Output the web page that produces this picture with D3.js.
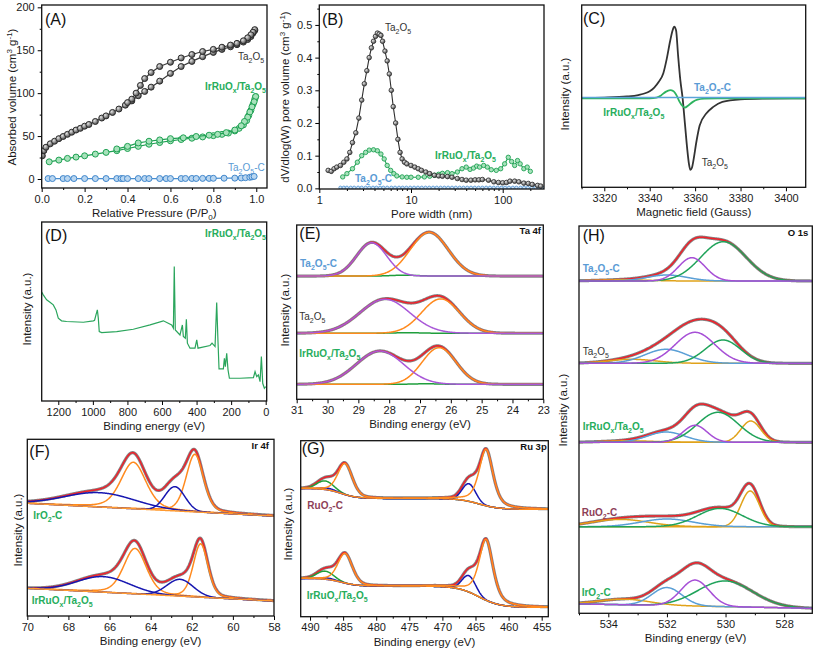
<!DOCTYPE html>
<html><head><meta charset="utf-8">
<script src="https://cdn.jsdelivr.net/npm/d3@7"></script>
<style>body{margin:0;background:#fff}svg{display:block}</style>
</head><body>
<svg id="c" width="817" height="651"></svg>
<script>
// ---------------- DATA ----------------
// (A) N2 isotherms [P/P0, volume]
const aTa2O5Ads = [[0.003,27],[0.01,33],[0.02,37],[0.04,41],[0.06,44],[0.08,47],[0.1,49.5],[0.12,52],[0.14,54.5],[0.16,57],[0.18,59],[0.2,61.5],[0.22,63.5],[0.25,67],[0.28,71],[0.3,73.5],[0.33,77.5],[0.36,81.5],[0.39,86],[0.42,91],[0.45,97],[0.48,102],[0.51,107],[0.55,114],[0.6,123],[0.65,131],[0.7,137],[0.75,142.5],[0.8,147.5],[0.84,151],[0.88,154],[0.91,156.5],[0.94,159.5],[0.96,162.5],[0.975,166],[0.985,170],[0.993,173]];
const aTa2O5Des = [[0.993,174],[0.985,171],[0.975,168],[0.96,164.5],[0.94,161],[0.91,158],[0.88,156],[0.84,153.5],[0.8,151],[0.75,148.5],[0.7,145],[0.65,141],[0.6,136],[0.55,131],[0.51,124],[0.48,117],[0.46,109],[0.44,100],[0.42,93],[0.4,89]];
const aIrAds = [[0.035,20],[0.08,22],[0.12,24],[0.16,25.5],[0.2,27],[0.25,29],[0.3,31],[0.35,33],[0.4,35.5],[0.45,38],[0.5,40.5],[0.55,42.5],[0.6,44.5],[0.65,46],[0.7,47.5],[0.75,49],[0.8,50.5],[0.84,52],[0.87,53.5],[0.9,56],[0.92,59],[0.94,63],[0.955,68],[0.965,74],[0.975,80],[0.985,87],[0.993,93],[0.997,96]];
const aIrDes = [[0.997,96],[0.99,90],[0.98,84],[0.97,78],[0.96,72],[0.945,67],[0.93,62],[0.9,57],[0.86,54],[0.82,52],[0.78,51],[0.72,49.5],[0.66,48],[0.6,47],[0.55,45.5],[0.5,44],[0.45,42],[0.4,38],[0.35,35]];
const aTaC = [[0.03,0.5],[0.05,0.5],[0.1,0.5],[0.12,0.5],[0.15,0.5],[0.2,0.5],[0.25,0.5],[0.3,0.5],[0.35,0.5],[0.37,0.5],[0.38,0.5],[0.4,0.5],[0.45,0.5],[0.48,0.5],[0.5,0.5],[0.55,0.5],[0.58,0.5],[0.6,0.5],[0.65,0.5],[0.67,0.6],[0.7,0.6],[0.72,0.6],[0.75,0.7],[0.78,0.7],[0.8,0.8],[0.85,0.9],[0.9,1.0],[0.93,1.2],[0.95,1.5],[0.97,2],[0.98,2.5],[0.99,3]];
const aXTicks = [0,0.2,0.4,0.6,0.8,1.0];
const aYTicks = [0,50,100,150,200];

// (B) pore size distribution [width nm, dV/dlogW]
const bTa2O5 = [[1.25,0.055],[1.35,0.052],[1.45,0.06],[1.55,0.065],[1.7,0.07],[1.85,0.08],[2.0,0.09],[2.15,0.11],[2.3,0.14],[2.5,0.17],[2.7,0.215],[2.9,0.27],[3.1,0.32],[3.3,0.36],[3.5,0.4],[3.7,0.43],[3.9,0.45],[4.1,0.465],[4.3,0.475],[4.5,0.472],[4.7,0.468],[4.9,0.45],[5.2,0.42],[5.5,0.39],[5.8,0.35],[6.1,0.3],[6.4,0.25],[6.8,0.2],[7.2,0.15],[7.6,0.11],[8.0,0.09],[8.5,0.08],[9,0.075],[10,0.07],[11,0.065],[12,0.06],[13,0.055],[14.5,0.05],[16,0.045],[18,0.04],[20,0.038],[22,0.037],[25,0.036],[28,0.034],[32,0.03],[36,0.027],[40,0.025],[45,0.025],[50,0.026],[55,0.026],[60,0.027],[70,0.025],[80,0.02],[90,0.018],[100,0.017],[110,0.018],[120,0.022],[135,0.022],[150,0.02],[170,0.016],[190,0.015],[210,0.012],[240,0.009],[260,0.007]];
const bIr = [[1.8,0.035],[2.0,0.045],[2.3,0.06],[2.6,0.08],[2.9,0.1],[3.2,0.11],[3.5,0.117],[3.9,0.118],[4.3,0.115],[4.7,0.105],[5.1,0.09],[5.5,0.07],[6,0.055],[6.5,0.045],[7,0.038],[8,0.035],[9,0.034],[10,0.034],[12,0.034],[14,0.035],[16,0.037],[18,0.04],[20,0.043],[22,0.046],[25,0.048],[28,0.045],[32,0.05],[36,0.06],[40,0.065],[44,0.058],[48,0.062],[52,0.068],[56,0.065],[62,0.07],[68,0.065],[75,0.057],[85,0.055],[95,0.06],[105,0.075],[115,0.095],[125,0.082],[135,0.07],[145,0.085],[155,0.075],[170,0.06],[185,0.065],[200,0.052]];
const bTaC = [[1.7,0.002],[1.85,0.002],[2.0,0.002],[2.2,0.002],[2.4,0.002],[2.65,0.002],[2.9,0.002],[3.2,0.002],[3.5,0.002],[3.85,0.002],[4.2,0.002],[4.6,0.002],[5.0,0.002],[5.5,0.002],[6.1,0.002],[6.7,0.002],[7.4,0.002],[8.1,0.002],[8.9,0.002],[9.8,0.002],[10.8,0.002],[11.9,0.002],[13.1,0.002],[14.4,0.002],[15.8,0.002],[17.4,0.002],[19.1,0.002],[21,0.002],[23.1,0.002],[25.4,0.002],[28,0.002],[30.8,0.002],[33.9,0.002],[37.3,0.002],[41,0.002],[45.1,0.002],[49.6,0.002],[54.6,0.002],[60,0.002],[66,0.002],[72.6,0.002],[79.9,0.002],[87.9,0.002],[96.7,0.002],[106,0.002],[117,0.002],[129,0.002],[141,0.002],[156,0.002],[171,0.002],[188,0.002],[207,0.002],[228,0.002],[250,0.002],[270,0.002]];
const bXTicks = [1,10,100];
const bYTicks = [0,0.1,0.2,0.3,0.4,0.5];

// (C) EPR [Gauss, intensity]
const cTa2O5 = [[3310,0.005],[3320,0.01],[3330,0.025],[3335,0.045],[3338,0.07],[3340,0.1],[3342,0.15],[3344,0.23],[3346,0.35],[3347.5,0.55],[3349,0.8],[3350,0.94],[3350.8,1.0],[3351.6,0.95],[3352.5,0.6],[3353.5,0.25],[3354.5,0],[3355.5,-0.35],[3356.5,-0.7],[3357.3,-0.92],[3357.9,-1.0],[3358.6,-0.97],[3359.3,-0.86],[3360.6,-0.6],[3362,-0.38],[3365,-0.21],[3368,-0.12],[3372,-0.05],[3380,-0.015],[3390,-0.005],[3409,0]];
const cIr = [[3310,0],[3340,0],[3343,0.01],[3345,0.04],[3347,0.09],[3349,0.115],[3350.5,0.1],[3352,0.03],[3353,-0.04],[3354.5,-0.11],[3355.5,-0.13],[3357,-0.1],[3359,-0.05],[3361,-0.02],[3364,-0.005],[3370,0],[3409,0]];
const cTaC = [[3310,0.012],[3350,0.012],[3409,0.012]];
const cXTicks = [3320,3340,3360,3380,3400];

// (D) XPS survey [BE, intensity]
const dSurvey = [[1296,60.8],[1287,59.3],[1267.5,56.5],[1248,55.2],[1229,53.7],[1213.5,50.9],[1200,46.3],[1181,44.8],[1152,44.4],[1055,44.0],[997,44.8],[990,45.1],[982,48.1],[974,50.9],[968.5,46.3],[963,38.8],[949,38.2],[862,38.8],[766,40.1],[669,42.5],[592,44.8],[544,42.5],[534,40.7],[529,75.2],[523,39.7],[496,36.9],[482,42.5],[476.5,36.0],[465,35.1],[459,45.7],[453,32.3],[438,29.5],[409,29.5],[399,34.1],[391.6,29.5],[322,31.0],[310.5,32.3],[293,30.4],[283.5,55.0],[276,33.2],[270,17.9],[245,17.9],[239,23.9],[233.4,19.2],[225.6,26.7],[218,17.4],[210,12.7],[148.5,12.7],[71,13.1],[61.6,16.4],[52,13.6],[42.3,14.6],[32.7,10.8],[25,24.8],[17.2,9.9],[7.6,7.1],[0,8.0]];
const dXTicks = [1200,1000,800,600,400,200,0];

// XPS fits: components as [centre (eV), height, FWHM (eV), Lorentz fraction]
// (E) Ta 4f
const eFits = [
  {base:70.7, purple:[[28.57,19.1,1.15,0]], orange:[[26.7,25.1,1.45,0]], green:[[27.5,0.5,1.0,0]]},
  {base:37.9, purple:[[28.14,19.5,1.9,0]], orange:[[26.33,19.7,1.45,0]], green:[[27.4,0.3,1.0,0]]},
  {base:8.6,  purple:[[28.3,19.1,1.8,0]],  orange:[[26.38,21,1.3,0]],  green:[[26.8,0.3,1.0,0]]}
];
const eXTicks = [31,30,29,28,27,26,25,24,23];
// (F) Ir 4f
const fFits = [
  {base:56.6, slope:0.6, orange:[[64.84,26.3,1.45,0.35],[61.85,32.6,1.0,0.3]], blue:[[66.47,8.1,4.0,0],[62.82,13.7,1.15,0]]},
  {base:8.5,  slope:0.6, orange:[[64.76,25.7,1.3,0.3],[61.57,30.2,0.85,0.3]], blue:[[66.3,8.8,3.0,0],[62.57,9.5,1.5,0]]}
];
const fXTicks = [70,68,66,64,62,60,58];
// (G) Ru 3p ; steps: [centre, size, width]
const gFits = [
  {base:61, steps:[[464.5,6.2,1.5],[485.3,5.7,1.2]], green:[[487.7,4.9,3.0,0]], blue:[[487.3,1.0,2.5,0],[466.0,10,2.4,0]], orange:[[484.7,17.7,2.6,0.3],[463.4,32.1,2.5,0.55]]},
  {base:5.3, steps:[[464.5,12.1,1.6],[485.3,4.4,1.2]], green:[[487.7,4.6,3.0,0]], blue:[[487.3,0.8,2.5,0],[466.0,9.3,2.4,0]], orange:[[484.7,16.9,2.6,0.3],[463.4,34.6,2.5,0.55]]}
];
const gXTicks = [490,485,480,475,470,465,460,455];
// (H) O 1s
const hFits = [
  {base:332.3, orange:[[533.5,1.2,2.0,0]], blue:[[532.0,6,1.6,0]], green:[[530.07,39.3,1.82,0]], purple:[[531.15,23.3,1.08,0]]},
  {base:250, orange:[[533.2,4,1.9,0]], blue:[[532.03,14,1.7,0]], green:[[530.09,23.3,1.42,0]], purple:[[531.04,31,1.59,0]]},
  {base:171, orange:[[529.14,21.3,0.8,0],[533.3,1.5,2.0,0]], blue:[[532.03,10.3,1.5,0]], green:[[530.26,30,1.65,0]], purple:[[531.04,17,0.97,0]]},
  {base:86.6, orange:[[529.16,35.7,0.75,0],[533.6,7.3,2.3,0]], blue:[[532.0,7.7,2.1,0]], green:[[530.19,18.3,1.8,0]], purple:[]},
  {base:5, slope:0.55, orange:[[533.43,5.6,2.0,0]], blue:[[532.0,18,1.2,0]], green:[[530.01,25.7,2.2,0]], purple:[[531.04,26,1.14,0]]}
];
const hXTicks = [534,532,530,528];

// ---------------- DRAWING ----------------
const FONT = '"Liberation Sans", Arial, Helvetica, sans-serif';
const svg = d3.select('#c').attr('font-family', FONT);
const defs = svg.append('defs');
const grad = defs.append('radialGradient').attr('id','sph').attr('cx','35%').attr('cy','35%').attr('r','65%');
grad.append('stop').attr('offset','0%').attr('stop-color','#e6e6e6');
grad.append('stop').attr('offset','100%').attr('stop-color','#4a4a4a');

const C = {green:'#27ad5c', blue:'#5b9bd5', gray:'#3c3c3c', maroon:'#8e3f58'};

function rich(sel, str, size){
  const parts = str.split(/(_\{[^}]*\}|\^\{[^}]*\})/).filter(s=>s.length);
  let shift = 0;
  parts.forEach(p=>{
    let t=p, target=0, fs=size;
    if(p.startsWith('_{')){t=p.slice(2,-1); target=size*0.3; fs=size*0.7;}
    else if(p.startsWith('^{')){t=p.slice(2,-1); target=-size*0.38; fs=size*0.7;}
    sel.append('tspan').attr('dy', target-shift).attr('font-size', fs).text(t);
    shift = target;
  });
  return sel;
}
function label(x, y, str, o={}){
  const t = svg.append('text').attr('x',x).attr('y',y)
    .attr('fill', o.color||'#222').attr('font-size', o.size||10)
    .attr('font-weight', o.weight||'normal').attr('text-anchor', o.anchor||'start');
  if(o.rotate) t.attr('transform',`rotate(-90,${x},${y})`);
  return rich(t, str, o.size||10);
}

function styleAxis(sel){
  sel.select('.domain').remove();
  sel.selectAll('line').attr('stroke','#000').attr('stroke-width',1);
  sel.selectAll('text').attr('font-size',11).attr('fill','#1a1a1a').attr('font-family',FONT);
}

function panel(o){
  const x = (o.log ? d3.scaleLog() : d3.scaleLinear()).domain(o.xd).range([o.l,o.r]);
  const y = d3.scaleLinear().domain(o.yd).range([o.b,o.t]);
  const cid = 'clip-'+o.id;
  defs.append('clipPath').attr('id',cid).append('rect')
    .attr('x',o.l).attr('y',o.t).attr('width',o.r-o.l).attr('height',o.b-o.t);
  const g = svg.append('g');
  const plot = g.append('g').attr('clip-path',`url(#${cid})`);
  g.append('g').attr('transform',`translate(0,${o.b})`)
    .call(d3.axisBottom(x).tickValues(o.xt).tickFormat(o.xf||(d=>d)).tickSize(4).tickPadding(3)).call(styleAxis);
  if(o.xm) g.append('g').attr('transform',`translate(0,${o.b})`)
    .call(d3.axisBottom(x).tickValues(o.xm).tickFormat('').tickSize(2)).call(styleAxis);
  if(o.yt){
    g.append('g').attr('transform',`translate(${o.l},0)`)
      .call(d3.axisLeft(y).tickValues(o.yt).tickFormat(o.yf||(d=>d)).tickSize(4).tickPadding(3)).call(styleAxis);
    if(o.ym) g.append('g').attr('transform',`translate(${o.l},0)`)
      .call(d3.axisLeft(y).tickValues(o.ym).tickFormat('').tickSize(2)).call(styleAxis);
  }
  g.append('rect').attr('x',o.l).attr('y',o.t).attr('width',o.r-o.l).attr('height',o.b-o.t)
    .attr('fill','none').attr('stroke','#111').attr('stroke-width',1.3);
  label((o.l+o.r)/2, o.b+29, o.xtitle, {size:11.5, anchor:'middle', color:'#1a1a1a'});
  label(o.ytx, o.ytc, o.ytitle, {size:11.5, anchor:'middle', color:'#1a1a1a', rotate:true});
  label(o.tagx, o.tagy, o.tag, {size:16, color:'#111'});
  return {x, y, plot, g};
}

function pv(xv, c){
  const d = (xv-c[0])/c[2];
  const G = Math.exp(-4*Math.LN2*d*d), L = 1/(1+4*d*d);
  const eta = c[3]||0;
  return c[1]*((1-eta)*G + eta*L);
}
function drawFit(p, spec, x0, order, colors){
  const [a,b] = p.x.domain();
  const n = 500;
  const xs = d3.range(n+1).map(i => a + (b-a)*i/n);
  const bg = xv => {
    let v = spec.base + (spec.slope||0)*(xv-x0);
    (spec.steps||[]).forEach(s => { v += s[1]/(1+Math.exp(-(xv-s[0])/s[2])); });
    return v;
  };
  const all = [];
  order.forEach(k => (spec[k]||[]).forEach(c => all.push(c)));
  const env = xv => bg(xv) + all.reduce((s,c)=>s+pv(xv,c),0);
  const line = d3.line().x(d=>p.x(d[0])).y(d=>p.y(d[1]));
  p.plot.append('path').attr('d', line(xs.map(v=>[v,env(v)]))).attr('fill','none')
    .attr('stroke','#707070').attr('stroke-width',3.2).attr('opacity',0.85);
  p.plot.append('path').attr('d', line(xs.map(v=>[v,env(v)]))).attr('fill','none')
    .attr('stroke','#f0202a').attr('stroke-width',1.5);
  order.forEach(k => (spec[k]||[]).forEach(c => {
    p.plot.append('path').attr('d', line(xs.map(v=>[v, bg(v)+pv(v,c)]))).attr('fill','none')
      .attr('stroke', colors[k]).attr('stroke-width',1.5);
  }));
  if(colors.bgline){
    p.plot.append('path').attr('d', line(xs.map(v=>[v,bg(v)]))).attr('fill','none')
      .attr('stroke', colors.bgline).attr('stroke-width',1.5);
  }
}

// ---- Panel A ----
const pA = panel({id:'A', l:41.7, r:267, t:5, b:188, xd:[0,1.05], yd:[-10.5,202.7],
  xt:aXTicks, xm:[0.1,0.3,0.5,0.7,0.9], xf:d3.format('.1f'), yt:aYTicks, ym:[25,75,125,175],
  xtitle:'Relative Pressure (P/P_{0})', ytitle:'Absorbed volume (cm^{3} g^{-1})', ytx:16, ytc:97,
  tag:'(A)', tagx:45, tagy:25});
{
  const line = d3.line().x(d=>pA.x(d[0])).y(d=>pA.y(d[1]));
  const series = [
    [aTaC, '#4a8fd0', '#b9d6f0', '#3f86cc'],
    [aIrAds, '#1fa153', '#a7e2bb', '#1fa153'], [aIrDes, '#1fa153', '#a7e2bb', '#1fa153'],
    [aTa2O5Ads, '#3a3a3a', 'url(#sph)', '#2e2e2e'], [aTa2O5Des, '#3a3a3a', 'url(#sph)', '#2e2e2e']
  ];
  series.forEach(([d, lc, fc, sc]) => {
    pA.plot.append('path').attr('d', line(d)).attr('fill','none').attr('stroke',lc).attr('stroke-width',1.2);
    pA.plot.selectAll(null).data(d).join('circle').attr('cx',q=>pA.x(q[0])).attr('cy',q=>pA.y(q[1]))
      .attr('r',3).attr('fill',fc).attr('stroke',sc).attr('stroke-width',1);
  });
  label(238, 60, 'Ta_{2}O_{5}', {color:'#333'});
  label(205, 90, 'IrRuO_{x}/Ta_{2}O_{5}', {color:C.green, weight:'bold'});
  label(228, 171, 'Ta_{2}O_{5}-C', {color:C.blue});
}

// ---- Panel B ----
const pB = panel({id:'B', l:319.3, r:544, t:5, b:189, log:true, xd:[1,282], yd:[-0.002,0.561],
  xt:bXTicks, xm:[2,3,4,5,6,7,8,9,20,30,40,50,60,70,80,90,200], xf:d3.format('d'),
  yt:bYTicks, ym:[0.05,0.15,0.25,0.35,0.45,0.55], yf:d3.format('.1f'),
  xtitle:'Pore width (nm)', ytitle:'dV/dlog(W) pore volume (cm^{3} g^{-1})', ytx:289, ytc:97,
  tag:'(B)', tagx:322, tagy:25});
{
  const line = d3.line().x(d=>pB.x(d[0])).y(d=>pB.y(d[1]));
  pB.plot.selectAll(null).data(bTaC).join('circle').attr('cx',q=>pB.x(q[0])).attr('cy',q=>pB.y(q[1]))
    .attr('r',1.6).attr('fill','#d4e6f6').attr('stroke','#4a8fd0').attr('stroke-width',0.8);
  pB.plot.append('path').attr('d', line(bIr)).attr('fill','none').attr('stroke','#1fa153').attr('stroke-width',1.1);
  pB.plot.selectAll(null).data(bIr).join('circle').attr('cx',q=>pB.x(q[0])).attr('cy',q=>pB.y(q[1]))
    .attr('r',2.2).attr('fill','#a7e2bb').attr('stroke','#1fa153').attr('stroke-width',0.9);
  pB.plot.append('path').attr('d', line(bTa2O5)).attr('fill','none').attr('stroke','#2e2e2e').attr('stroke-width',1.1);
  pB.plot.selectAll(null).data(bTa2O5).join('circle').attr('cx',q=>pB.x(q[0])).attr('cy',q=>pB.y(q[1]))
    .attr('r',2.3).attr('fill','url(#sph)').attr('stroke','#2e2e2e').attr('stroke-width',0.8);
  label(385, 31, 'Ta_{2}O_{5}', {color:'#333'});
  label(435, 159, 'IrRuO_{x}/Ta_{2}O_{5}', {color:C.green, weight:'bold'});
  label(355, 182, 'Ta_{2}O_{5}-C', {color:C.blue, weight:'bold'});
}

// ---- Panel C ----
const pC = panel({id:'C', l:581.7, r:805.7, t:5, b:187.3, xd:[3310.05,3408.7], yd:[-1.243,1.303],
  xt:cXTicks, xm:[3310,3330,3350,3370,3390], xf:d3.format('d'),
  xtitle:'Magnetic field (Gauss)', ytitle:'Intensity (a.u.)', ytx:569, ytc:94,
  tag:'(C)', tagx:583, tagy:24});
{
  const line = d3.line().x(d=>pC.x(d[0])).y(d=>pC.y(d[1])).curve(d3.curveMonotoneX);
  pC.plot.append('path').attr('d', line(cTa2O5)).attr('fill','none').attr('stroke','#333').attr('stroke-width',1.8);
  pC.plot.append('path').attr('d', line(cIr)).attr('fill','none').attr('stroke','#2db35f').attr('stroke-width',1.8);
  pC.plot.append('path').attr('d', line(cTaC)).attr('fill','none').attr('stroke','#5ba3d9').attr('stroke-width',1.4);
  label(694, 91, 'Ta_{2}O_{5}-C', {color:C.blue, weight:'bold'});
  label(603.3, 116, 'IrRuO_{x}/Ta_{2}O_{5}', {color:C.green, weight:'bold'});
  label(701.7, 166, 'Ta_{2}O_{5}', {color:'#333'});
}

// ---- Panel D ----
const pD = panel({id:'D', l:41.7, r:266.7, t:222, b:401, xd:[1296,-5.8], yd:[0,100],
  xt:dXTicks, xm:[1100,900,700,500,300,100], xf:d3.format('d'),
  xtitle:'Binding energy (eV)', ytitle:'Intensity (a.u.)', ytx:31, ytc:309,
  tag:'(D)', tagx:45, tagy:241});
{
  const line = d3.line().x(d=>pD.x(d[0])).y(d=>pD.y(d[1]));
  pD.plot.append('path').attr('d', line(dSurvey)).attr('fill','none').attr('stroke','#2aa55c').attr('stroke-width',1.2);
  label(205, 237, 'IrRuO_{x}/Ta_{2}O_{5}', {color:C.green, weight:'bold'});
}

// ---- Panel E ----
const pE = panel({id:'E', l:296.7, r:543.3, t:225, b:399.3, xd:[31,23], yd:[0,100],
  xt:eXTicks, xm:[30.5,29.5,28.5,27.5,26.5,25.5,24.5,23.5], xf:d3.format('d'),
  xtitle:'Binding energy (eV)', ytitle:'Intensity (a.u.)', ytx:289, ytc:310,
  tag:'(E)', tagx:299.3, tagy:239});
eFits.forEach(s => drawFit(pE, s, 23, ['green','orange','purple'], {green:'#1f9e3c', orange:'#ff8a1e', purple:'#a958d8'}));
label(541, 234, 'Ta 4f', {weight:'bold', anchor:'end', size:9.5, color:'#111'});
label(300, 267, 'Ta_{2}O_{5}-C', {color:C.blue, weight:'bold'});
label(299.3, 320, 'Ta_{2}O_{5}', {color:'#333'});
label(299.3, 357, 'IrRuO_{x}/Ta_{2}O_{5}', {color:C.green, weight:'bold'});

// ---- Panel F ----
const pF = panel({id:'F', l:27.3, r:274, t:439.3, b:616, xd:[70,58], yd:[0,100],
  xt:fXTicks, xm:[69,67,65,63,61,59], xf:d3.format('d'),
  xtitle:'Binding energy (eV)', ytitle:'Intensity (a.u.)', ytx:22, ytc:530,
  tag:'(F)', tagx:29.3, tagy:457});
fFits.forEach(s => drawFit(pF, s, 58, ['orange','blue'], {orange:'#ff8a1e', blue:'#1616b0', bgline:'#ff9a30'}));
label(269, 449, 'Ir 4f', {weight:'bold', anchor:'end', size:9.5, color:'#111'});
label(33.3, 519, 'IrO_{2}-C', {color:C.green, weight:'bold'});
label(31.7, 604, 'IrRuO_{x}/Ta_{2}O_{5}', {color:C.green, weight:'bold'});

// ---- Panel G ----
const pG = panel({id:'G', l:300.7, r:548.3, t:440.7, b:616.7, xd:[491.41,454.0], yd:[0,100],
  xt:gXTicks, xm:[487.5,482.5,477.5,472.5,467.5,462.5,457.5], xf:d3.format('d'),
  xtitle:'Binding energy (eV)', ytitle:'Intensity (a.u.)', ytx:292, ytc:524,
  tag:'(G)', tagx:301.7, tagy:454});
gFits.forEach(s => drawFit(pG, s, 454, ['green','blue','orange'], {green:'#21a03a', blue:'#1616b0', orange:'#ff8a1e'}));
label(546.7, 450, 'Ru 3p', {weight:'bold', anchor:'end', size:9.5, color:'#111'});
label(307.3, 509, 'RuO_{2}-C', {color:C.maroon, weight:'bold'});
label(306.7, 599, 'IrRuO_{x}/Ta_{2}O_{5}', {color:C.green, weight:'bold'});

// ---- Panel H ----
const pH = panel({id:'H', l:579, r:812.3, t:226, b:613.3, xd:[535,527.04], yd:[0,387.3],
  xt:hXTicks, xm:[535,533,531,529], xf:d3.format('d'),
  xtitle:'Binding energy (eV)', ytitle:'Intensity (a.u.)', ytx:567, ytc:410,
  tag:'(H)', tagx:582.7, tagy:241});
hFits.forEach(s => drawFit(pH, s, 527, ['orange','blue','green','purple'], {orange:'#e0a21a', blue:'#5a9fd6', green:'#1fa35a', purple:'#a64fd6'}));
label(808.3, 236, 'O 1s', {weight:'bold', anchor:'end', size:9.5, color:'#111'});
label(582.7, 272, 'Ta_{2}O_{5}-C', {color:C.blue, weight:'bold'});
label(582.7, 355, 'Ta_{2}O_{5}', {color:'#333'});
label(582.7, 430, 'IrRuO_{x}/Ta_{2}O_{5}', {color:C.green, weight:'bold'});
label(581.7, 516, 'RuO_{2}-C', {color:C.maroon, weight:'bold'});
label(581.7, 596, 'IrO_{2}-C', {color:C.green, weight:'bold'});
</script>
</body></html>
